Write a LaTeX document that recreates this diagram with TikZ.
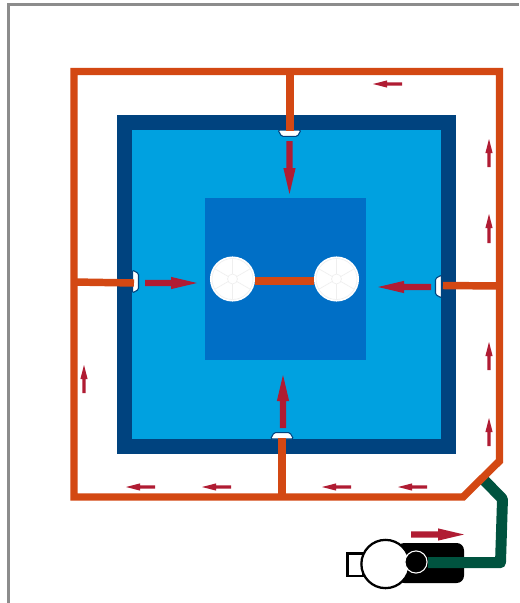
\documentclass[tikz,border=0pt]{standalone}
\usetikzlibrary{calc}
\definecolor{pipeorange}{HTML}{D34813}
\definecolor{pipegreen}{HTML}{00533F}
\definecolor{walldark}{HTML}{00437F}
\definecolor{poollight}{HTML}{00A1E0}
\definecolor{deepblue}{HTML}{006FC6}
\definecolor{flowred}{HTML}{B01C33}
\definecolor{framegrey}{HTML}{8C8C8C}
\definecolor{drainline}{HTML}{EFEFEF}
\tikzset{
  x=0.75pt,y=-0.75pt,
  frameline/.style={draw=framegrey,line width=1.9pt},
  pipe/.style={draw=pipeorange,line width=5.6pt,line join=miter},
  greenpipe/.style={draw=pipegreen,line width=8.2pt,line join=round},
  flowfill/.style={fill=flowred},
  inlet/.style={fill=white,draw=walldark,line width=0.8pt,line join=round,rounded corners=1pt},
  drainnode/.style={circle,fill=white,minimum size=33.8pt,inner sep=0pt,draw=none},
  drainmark/.style={draw=drainline,line width=0.5pt},
  pumpline/.style={draw=black,line width=1.7pt,fill=white},
}
\newcommand{\drainicon}[1]{%
  \draw[drainmark] (#1) circle (20.5);
  \draw[drainmark] (#1) circle (5);
  \foreach \a in {90,30,-30,-90,-150,150}
    \draw[drainmark] (#1) ++(\a:5) -- ++(\a:15.5);
}
% tail, tip, head length, half shaft width, half head width
\newcommand{\flowarrow}[5]{%
  \coordinate (ftail) at (#1);
  \coordinate (ftip) at (#2);
  \coordinate (fneck) at ($(ftip)!#3!(ftail)$);
  \fill[flowfill] ($(ftail)!#4!90:(ftip)$) -- ($(fneck)!#4!90:(ftip)$) -- ($(fneck)!#5!90:(ftip)$)
    -- (ftip) -- ($(fneck)!#5!-90:(ftip)$) -- ($(fneck)!#4!-90:(ftip)$) -- ($(ftail)!#4!-90:(ftip)$) -- cycle;
}
\newcommand{\bigflow}[2]{\flowarrow{#1}{#2}{19.5pt}{2.4pt}{4.6pt}}
\newcommand{\smallflow}[2]{\flowarrow{#1}{#2}{10.5pt}{1.25pt}{2.7pt}}
\begin{document}
\begin{tikzpicture}
\useasboundingbox (0,0) rectangle (519,603);
\fill[white] (0,0) rectangle (519,603);
% outer frame
\draw[frameline] (8.6,603) -- (8.6,4.6) -- (519,4.6);
% pool
\fill[walldark] (117,115) rectangle (456,454);
\fill[poollight] (132,130) rectangle (441,439);
\fill[deepblue] (204.5,198) rectangle (365.5,360);
% pump
\fill[black,rounded corners=5.5pt] (397,543) -- (464,543) -- (464,583) -- (397,583) -- cycle;
\draw[pumpline] (347.5,553.5) rectangle (363,576);
\node[circle,pumpline,minimum size=36.2pt,inner sep=0pt] (motor) at (385.5,564) {};
\node[circle,fill=black,draw=white,line width=0.8pt,minimum size=16.6pt,inner sep=0pt] (impeller) at (416,562) {};
\coordinate (pumpout) at (428,562.7);
\coordinate (loopjoin) at (483,479);
\draw[greenpipe] (pumpout) -- (500.5,562.7) -- (502.5,499) -- (loopjoin);
% loop
\draw[pipe] (74,71.5) -- (499.5,71.5) -- (499.5,461) -- (463,497) -- (74,497) -- cycle;
% branches
\coordinate (topA) at (290,71.5); \coordinate (topB) at (290,131);
\coordinate (leftA) at (74,282); \coordinate (leftB) at (134,283);
\coordinate (rightA) at (499.5,286); \coordinate (rightB) at (443,285.5);
\coordinate (botA) at (282,497); \coordinate (botB) at (282,438);
% inlets
\draw[inlet] (278,130) -- (301,130) -- (297.5,136.3) -- (281.5,136.3) -- cycle;
\draw[inlet] (270.5,439) -- (293.5,439) -- (290,432.7) -- (274,432.7) -- cycle;
\draw[inlet] (132.5,270) -- (132.5,293) -- (138.5,289.5) -- (138.5,273.5) -- cycle;
\draw[inlet] (441.5,275) -- (441.5,298) -- (435.5,294.5) -- (435.5,278.5) -- cycle;
\draw[pipe] (topA) -- (topB);
\draw[pipe] (botA) -- (botB);
\draw[pipe] (leftA) -- (leftB);
\draw[pipe] (rightA) -- (rightB);
% main drains
\node[drainnode] (drainL) at (232.5,279) {};
\node[drainnode] (drainR) at (336.5,279) {};
\draw[draw=pipeorange,line width=5.6pt] (drainL.east |- 0,281) -- (drainR.west |- 0,281);
\drainicon{drainL}
\drainicon{drainR}
% big flow arrows
\bigflow{289.5,141}{289.5,194}
\bigflow{145,283}{197,283}
\bigflow{431,287}{378,287}
\bigflow{283,428}{283,375}
\bigflow{411,534.5}{464,534.5}
% small flow arrows
\smallflow{402,84}{373,84}
\smallflow{489,167}{489,139}
\smallflow{489,243}{489,214}
\smallflow{489,370}{489,342}
\smallflow{489,446}{489,418}
\smallflow{84,393}{84,365}
\smallflow{155,487}{126,487}
\smallflow{231,487}{202,487}
\smallflow{351,487}{322,487}
\smallflow{427,487}{398,487}
\end{tikzpicture}
\end{document}
